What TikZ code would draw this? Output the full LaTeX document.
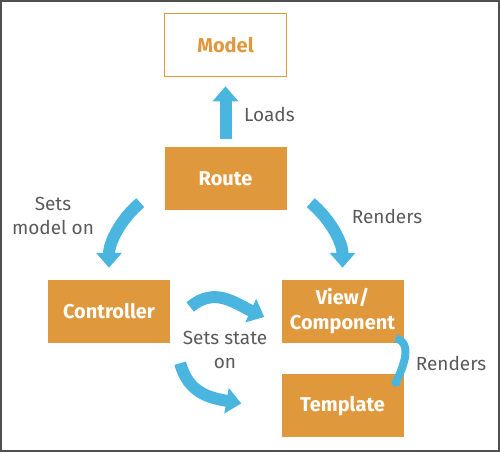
\documentclass[tikz,border=0pt]{standalone}
\usepackage{fontspec}
\setmainfont{Fira Sans}
\usepackage{tikz}
\usetikzlibrary{positioning, arrows.meta}
\usepackage{xcolor}
\definecolor{boxorange}{RGB}{224,152,60}
\definecolor{flowblue}{RGB}{74,182,224}
\definecolor{labelgray}{RGB}{90,90,90}
\definecolor{framegray}{RGB}{80,80,80}

\begin{document}
\begin{tikzpicture}[x=1pt, y=1pt,
  box/.style={rectangle, fill=boxorange, text=white, minimum width=122pt, minimum height=63pt, inner sep=0pt, align=center, font=\fontsize{20}{25}\selectfont\bfseries},
  openbox/.style={box, fill=white, draw=boxorange, line width=1.2pt, text=boxorange},
  flow/.style={draw=flowblue, line width=12pt, -{Triangle[width=25pt, length=15pt]}},
  smallflow/.style={draw=flowblue, line width=8pt, -{Triangle[width=11pt, length=5pt]}},
  lbl/.style={text=labelgray, align=center, inner sep=0pt, font=\fontsize{19}{24}\selectfont}]
%

%help grid
%\draw[help lines, step=50] (0,0) grid (500,452);

\useasboundingbox (0,0) rectangle (500,452);
\draw[framegray, line width=2pt] (1,1) rectangle (499,451);

%%% nodes and boxes

%%% ROUTE AND MODEL
\node [box] (route) at (225.5,273) {Route};
\node [openbox, above = 70pt of route] (model) {Model};

%%% CONTROLLER
\node [box] (controller) at (109,140.5) {Controller};

%%% VIEW AND TEMPLATE
\node [box] (view) at (342.5,140.5) {View/\\Component};
\node [box, below = 31pt of view] (template) {Template};

%%% connections, arrows

\draw [flow] ([yshift=8pt]route.north) -- ([yshift=-9pt]model.south);
\draw [flow] ([xshift=-24pt, yshift=8pt]route.south west) to[out=220, in=90, looseness=0.9] ([yshift=12pt]controller.north);
\draw [flow] ([xshift=24pt, yshift=8pt]route.south east) to[out=-40, in=90, looseness=0.9] ([yshift=12pt]view.north);
\draw [flow] ([xshift=20pt, yshift=4.5pt]controller.east) to[out=40, in=155, looseness=1.1] ([xshift=-17pt, yshift=-5.5pt]view.west);
\draw [flow] ([xshift=10pt, yshift=-20pt]controller.south east) to[out=-75, in=170, looseness=1.1] ([xshift=-40pt, yshift=2.5pt]template.west);
\draw [smallflow] ([xshift=-8pt, yshift=5pt]view.south east) to[out=-15, in=65] ([xshift=-10pt, yshift=-13pt]template.north east);

%%% labels

\node [lbl, anchor=west] (loads) at (244,338) {Loads};
\node [lbl] (sets-model) at (53,236) {Sets\\model on};
\node [lbl] (renders-view) at (387,236) {Renders};
\node [lbl] (sets-state) at (225,102) {Sets state\\on};
\node [lbl] (renders-template) at (451,89) {Renders};

\end{tikzpicture}
\end{document}
